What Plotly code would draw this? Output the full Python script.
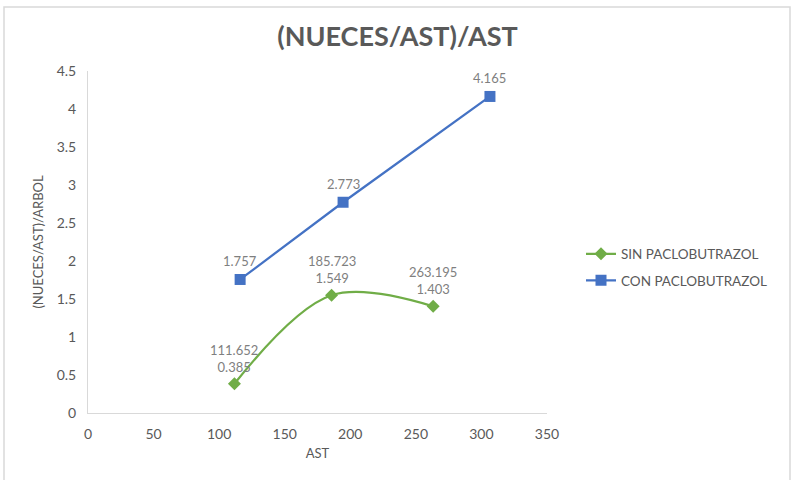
import plotly.graph_objects as go

# Series data
sin_x = [111.652, 185.723, 263.195]
sin_y = [0.385, 1.549, 1.403]
con_x = [116.0, 194.5, 306.5]
con_y = [1.757, 2.773, 4.165]

x_ticks = [0, 50, 100, 150, 200, 250, 300, 350]
y_ticks = [0, 0.5, 1, 1.5, 2, 2.5, 3, 3.5, 4, 4.5]

GREEN = "#70AD47"
BLUE = "#4472C4"
TEXT = "#595959"
LABEL = "#7F7F7F"
FONT = "Lato, Open Sans, sans-serif"

W, H = 795, 480
L, R, T, B = 88, 248, 71, 67
pw, ph = W - L - R, H - T - B

def px_to_paper_x(px):
    return (px - L) / pw

def px_to_paper_y(py):
    return (H - B - py) / ph

fig = go.Figure()

fig.add_trace(go.Scatter(
    x=sin_x, y=sin_y, name="SIN PACLOBUTRAZOL", legendgroup="sin",
    mode="lines+markers",
    line=dict(color=GREEN, width=2.25, shape="spline", smoothing=1),
    marker=dict(symbol="diamond", size=10, color=GREEN),
))

fig.add_trace(go.Scatter(
    x=con_x, y=con_y, name="CON PACLOBUTRAZOL", legendgroup="con",
    mode="lines+markers",
    line=dict(color=BLUE, width=2.25),
    marker=dict(symbol="square", size=11, color=BLUE),
))

# Data labels above each point
annotations = []
for x, y in zip(sin_x, sin_y):
    annotations.append(dict(
        x=x, y=y, xref="x", yref="y", text=f"{x:.3f}<br>{y:.3f}",
        showarrow=False, xanchor="center", yanchor="bottom", yshift=7,
        font=dict(family=FONT, size=13, color=LABEL),
    ))
for x, y in zip(con_x, con_y):
    annotations.append(dict(
        x=x, y=y, xref="x", yref="y", text=f"{y:.3f}",
        showarrow=False, xanchor="center", yanchor="bottom", yshift=8,
        font=dict(family=FONT, size=13, color=LABEL),
    ))

fig.update_layout(
    width=W, height=H,
    margin=dict(l=L, r=R, t=T, b=B, autoexpand=False),
    paper_bgcolor="white", plot_bgcolor="white",
    font=dict(family=FONT, color=TEXT, size=13),
    title=dict(
        text="<b>(NUECES/AST)/AST</b>",
        x=0.5, xref="container", xanchor="center",
        y=1 - 37 / H, yref="container", yanchor="middle",
        font=dict(family=FONT, size=27, color=TEXT),
    ),
    showlegend=True,
    legend=dict(
        x=px_to_paper_x(581), y=px_to_paper_y(267.5),
        xanchor="left", yanchor="middle",
        font=dict(family=FONT, size=13.5, color=TEXT),
        bgcolor="rgba(0,0,0,0)", tracegroupgap=6,
    ),
    annotations=annotations,
    xaxis=dict(
        range=[0, 350], tickvals=x_ticks, ticktext=[str(v) for v in x_ticks],
        showgrid=False, zeroline=False,
        showline=True, linecolor="#D9D9D9", linewidth=1,
        ticks="", ticklabelstandoff=8,
        tickfont=dict(family=FONT, size=14, color=TEXT),
        title=dict(text="AST", font=dict(family=FONT, size=13, color=TEXT), standoff=8),
    ),
    yaxis=dict(
        range=[0, 4.5], tickvals=y_ticks, ticktext=[f"{v:g}" for v in y_ticks],
        showgrid=False, zeroline=False,
        showline=True, linecolor="#D9D9D9", linewidth=1,
        ticks="", ticklabelstandoff=8,
        tickfont=dict(family=FONT, size=14, color=TEXT),
        title=dict(text="(NUECES/AST)/ARBOL", font=dict(family=FONT, size=13, color=TEXT), standoff=10),
    ),
    shapes=[dict(
        type="rect", xref="paper", yref="paper", layer="below",
        x0=px_to_paper_x(4), x1=px_to_paper_x(790),
        y0=px_to_paper_y(484), y1=px_to_paper_y(7),
        line=dict(color="#D9D9D9", width=1.5), fillcolor="rgba(0,0,0,0)",
    )],
)

fig.write_html("out.html")
